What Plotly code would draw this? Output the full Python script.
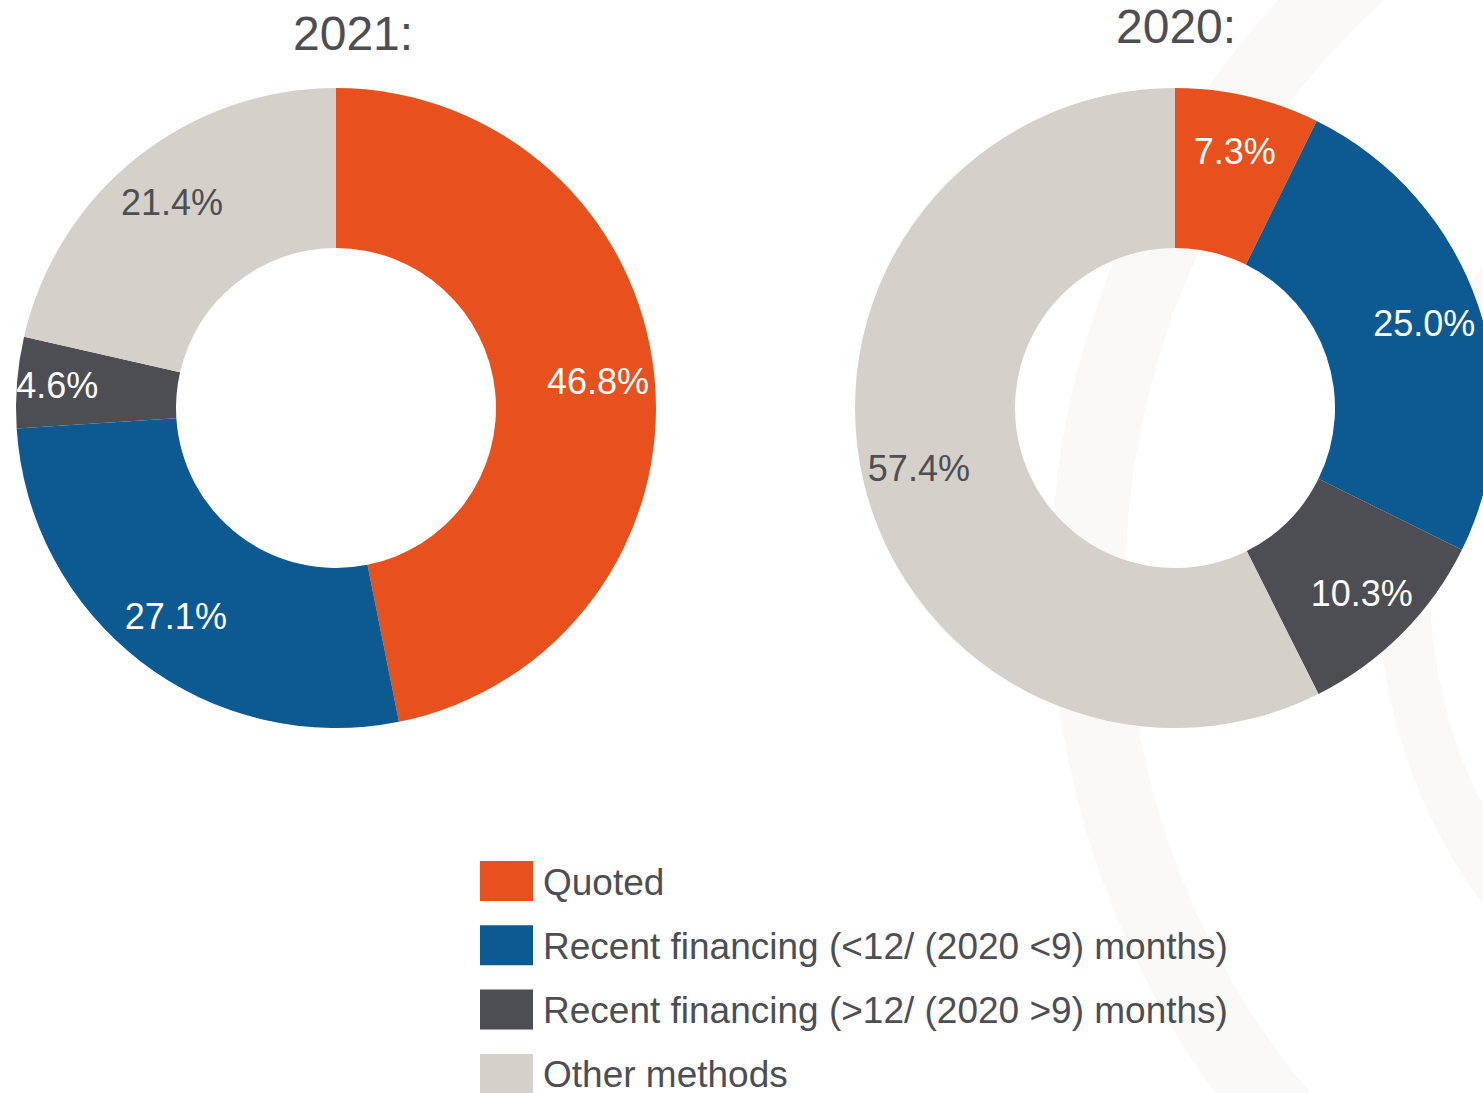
import plotly.graph_objects as go

# ---- data ----
categories = [
    "Quoted",
    "Recent financing (<12/ (2020 <9) months)",
    "Recent financing (>12/ (2020 >9) months)",
    "Other methods",
]
values_2021 = [46.8, 27.1, 4.6, 21.4]
values_2020 = [7.3, 25.0, 10.3, 57.4]
year_titles = ["2021:", "2020:"]

# ---- styles ----
# the 2020 donut runs slightly past the right edge of the 1483 px view,
# so the canvas is a little wider and the overflow is hidden
W, H = 1495, 1093
colors = ["#E8501E", "#0C5A91", "#4D4E53", "#D5D0CA"]
text_colors = ["#FFFFFF", "#FFFFFF", "#FFFFFF", "#4D4E53"]
dark = "#4D4E53"
FONT = "Liberation Sans, Arial, sans-serif"


def px_x(v):
    return v / W


def px_y(v):  # from top in pixels -> paper
    return 1 - v / H


fig = go.Figure()

domains = [
    dict(x=[px_x(16), px_x(656)], y=[px_y(728), px_y(88)]),
    dict(x=[px_x(855), px_x(1495)], y=[px_y(728), px_y(88)]),
]
label_holes = [0.645, 0.645]

for vals, dom, lh in zip([values_2021, values_2020], domains, label_holes):
    # coloured ring
    fig.add_trace(go.Pie(
        labels=categories, values=vals, hole=0.5, sort=False,
        direction="clockwise", rotation=0, domain=dom,
        marker=dict(colors=colors, line=dict(width=0)),
        textinfo="none", showlegend=False, hoverinfo="label+value",
    ))
    # transparent overlay carrying the percentage labels (outer part of ring)
    fig.add_trace(go.Pie(
        labels=categories, values=vals, hole=lh, sort=False,
        direction="clockwise", rotation=0, domain=dom,
        marker=dict(colors=["rgba(0,0,0,0)"] * len(vals), line=dict(width=0)),
        texttemplate="%{value:.1f}%", textposition="inside",
        insidetextorientation="horizontal",
        textfont=dict(family=FONT, size=36, color=text_colors),
        showlegend=False, hoverinfo="skip",
    ))

# titles
title_pos = [(353, 33), (1176, 27)]
for t, (x, y) in zip(year_titles, title_pos):
    fig.add_annotation(
        text=t, x=px_x(x), y=px_y(y), xref="paper", yref="paper",
        xanchor="center", yanchor="middle", showarrow=False,
        font=dict(family=FONT, size=48, color=dark),
    )

# decorative background rings
shapes = []
for cx, cy, r, w in [(1916, 585, 828, 75), (1916, 585, 512, 52)]:
    shapes.append(dict(
        type="circle", xref="paper", yref="paper", layer="below",
        x0=px_x(cx - r), x1=px_x(cx + r), y0=px_y(cy + r), y1=px_y(cy - r),
        line=dict(color="#FAF9F7", width=w), fillcolor="rgba(0,0,0,0)",
    ))

# custom legend with large swatches
leg_x0, sw_w, sw_h, top0, step = 480, 53, 40, 861, 64.3
for i, (cat, col) in enumerate(zip(categories, colors)):
    t = top0 + i * step
    shapes.append(dict(
        type="rect", xref="paper", yref="paper",
        x0=px_x(leg_x0), x1=px_x(leg_x0 + sw_w), y0=px_y(t + sw_h), y1=px_y(t),
        fillcolor=col, line=dict(width=0),
    ))
    fig.add_annotation(
        text=cat, x=px_x(541), y=px_y(t + sw_h / 2 + 1), xref="paper", yref="paper",
        xanchor="left", yanchor="middle", showarrow=False,
        font=dict(family=FONT, size=37, color=dark),
    )

fig.update_layout(
    width=W, height=H,
    margin=dict(l=0, r=0, t=0, b=0),
    paper_bgcolor="white", plot_bgcolor="white",
    shapes=shapes,
    showlegend=False,
    uniformtext=dict(minsize=36, mode="show"),
)

fig.write_html(
    "out.html",
    config={"displayModeBar": False},
    post_script="document.body.style.margin='0';document.body.style.overflow='hidden';",
)
